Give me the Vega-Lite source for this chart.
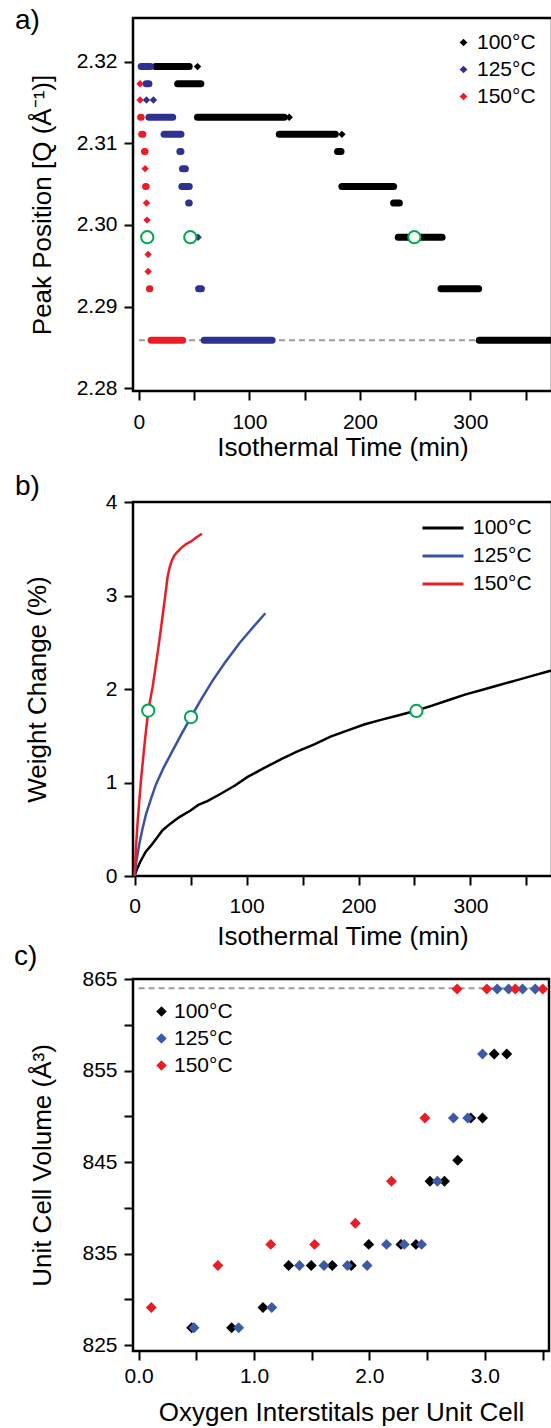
{
  "$schema": "https://vega.github.io/schema/vega-lite/v6.json",
  "background": "white",
  "padding": {"left": 12, "top": 5, "right": 0, "bottom": 0},
  "config": {
    "font": "Liberation Sans",
    "view": {"stroke": "black", "strokeWidth": 2.5},
    "axis": {"domain": false, "grid": false, "tickColor": "black", "tickWidth": 2, "tickSize": 9, "labelFontSize": 21, "labelColor": "black", "labelFont": "Liberation Sans", "titleFont": "Liberation Sans", "titleFontSize": 26, "titleFontWeight": "normal", "titleColor": "black", "labelPadding": 7, "labelFlush": false, "labelOverlap": false},
    "legend": {"labelFont": "Liberation Sans", "labelFontSize": 21, "labelColor": "black", "padding": 0},
    "title": {"font": "Liberation Sans", "fontSize": 28, "fontWeight": "normal", "color": "black", "anchor": "start", "frame": "group", "baseline": "alphabetic"}
  },
  "datasets": {
    "refA": [{"t": 0, "t2": 372, "q": 2.2859}],
    "bandsA": [
      {"T": "100°C", "q": 2.3194, "t": 15, "t2": 45.5},
      {"T": "100°C", "q": 2.3173, "t": 35, "t2": 56},
      {"T": "100°C", "q": 2.3132, "t": 53, "t2": 131.5},
      {"T": "100°C", "q": 2.3111, "t": 127, "t2": 177.7},
      {"T": "100°C", "q": 2.3090, "t": 179.8, "t2": 182.9},
      {"T": "100°C", "q": 2.3047, "t": 183.7, "t2": 230.5},
      {"T": "100°C", "q": 2.3027, "t": 230.5, "t2": 235.7},
      {"T": "100°C", "q": 2.2985, "t": 234.7, "t2": 274.4},
      {"T": "100°C", "q": 2.2922, "t": 273.4, "t2": 307.5},
      {"T": "100°C", "q": 2.2859, "t": 308, "t2": 380},
      {"T": "125°C", "q": 2.3194, "t": 2, "t2": 10.5},
      {"T": "125°C", "q": 2.3173, "t": 6.5, "t2": 9},
      {"T": "125°C", "q": 2.3132, "t": 9, "t2": 30.5},
      {"T": "125°C", "q": 2.3111, "t": 22.7, "t2": 38},
      {"T": "125°C", "q": 2.3090, "t": 37, "t2": 38},
      {"T": "125°C", "q": 2.3069, "t": 39.4, "t2": 42},
      {"T": "125°C", "q": 2.3047, "t": 38.8, "t2": 45.5},
      {"T": "125°C", "q": 2.3027, "t": 45, "t2": 45.5},
      {"T": "125°C", "q": 2.2922, "t": 54, "t2": 56.5},
      {"T": "125°C", "q": 2.2859, "t": 59, "t2": 120.5},
      {"T": "150°C", "q": 2.3132, "t": 1.5, "t2": 2},
      {"T": "150°C", "q": 2.3111, "t": 2.5, "t2": 3.5},
      {"T": "150°C", "q": 2.3090, "t": 5, "t2": 5.5},
      {"T": "150°C", "q": 2.3047, "t": 6, "t2": 6.5},
      {"T": "150°C", "q": 2.2922, "t": 9.5, "t2": 9.8},
      {"T": "150°C", "q": 2.2859, "t": 11, "t2": 39.5}
    ],
    "dotsA": [
      {"T": "100°C", "q": 2.3194, "t": 53},
      {"T": "100°C", "q": 2.3132, "t": 136},
      {"T": "100°C", "q": 2.3111, "t": 183.7},
      {"T": "125°C", "q": 2.3153, "t": 6.8},
      {"T": "125°C", "q": 2.3153, "t": 13.1},
      {"T": "125°C", "q": 2.2985, "t": 53.5},
      {"T": "150°C", "q": 2.3173, "t": 1},
      {"T": "150°C", "q": 2.3153, "t": 1},
      {"T": "150°C", "q": 2.3069, "t": 5.6},
      {"T": "150°C", "q": 2.3027, "t": 6.8},
      {"T": "150°C", "q": 2.3006, "t": 7.3},
      {"T": "150°C", "q": 2.2964, "t": 8.3},
      {"T": "150°C", "q": 2.2943, "t": 8.3}
    ],
    "circA": [{"t": 7.5, "q": 2.2985}, {"t": 46.5, "q": 2.2985}, {"t": 249.3, "q": 2.2985}],
    "curvesB": [
      {"T": "100°C", "t": 0, "w": 0}, {"T": "100°C", "t": 2, "w": 0.07}, {"T": "100°C", "t": 5, "w": 0.15},
      {"T": "100°C", "t": 10, "w": 0.26}, {"T": "100°C", "t": 15, "w": 0.33}, {"T": "100°C", "t": 20, "w": 0.41},
      {"T": "100°C", "t": 25, "w": 0.49}, {"T": "100°C", "t": 32, "w": 0.56}, {"T": "100°C", "t": 40, "w": 0.63},
      {"T": "100°C", "t": 50, "w": 0.7}, {"T": "100°C", "t": 57, "w": 0.76}, {"T": "100°C", "t": 65, "w": 0.8},
      {"T": "100°C", "t": 77, "w": 0.88}, {"T": "100°C", "t": 90, "w": 0.97}, {"T": "100°C", "t": 101, "w": 1.06},
      {"T": "100°C", "t": 115, "w": 1.15}, {"T": "100°C", "t": 131, "w": 1.25}, {"T": "100°C", "t": 145, "w": 1.33},
      {"T": "100°C", "t": 161, "w": 1.41}, {"T": "100°C", "t": 175, "w": 1.49}, {"T": "100°C", "t": 191, "w": 1.56},
      {"T": "100°C", "t": 205, "w": 1.62}, {"T": "100°C", "t": 220, "w": 1.67}, {"T": "100°C", "t": 236, "w": 1.72},
      {"T": "100°C", "t": 252, "w": 1.77}, {"T": "100°C", "t": 265, "w": 1.82}, {"T": "100°C", "t": 280, "w": 1.88},
      {"T": "100°C", "t": 295, "w": 1.94}, {"T": "100°C", "t": 310, "w": 1.99}, {"T": "100°C", "t": 325, "w": 2.04},
      {"T": "100°C", "t": 340, "w": 2.09}, {"T": "100°C", "t": 355, "w": 2.14}, {"T": "100°C", "t": 373, "w": 2.2},
      {"T": "125°C", "t": 0, "w": 0}, {"T": "125°C", "t": 1.5, "w": 0.15}, {"T": "125°C", "t": 4.2, "w": 0.34},
      {"T": "125°C", "t": 7, "w": 0.5}, {"T": "125°C", "t": 10.2, "w": 0.66}, {"T": "125°C", "t": 14.5, "w": 0.82},
      {"T": "125°C", "t": 19.1, "w": 0.98}, {"T": "125°C", "t": 26, "w": 1.16}, {"T": "125°C", "t": 34, "w": 1.34},
      {"T": "125°C", "t": 42, "w": 1.52}, {"T": "125°C", "t": 50.4, "w": 1.7}, {"T": "125°C", "t": 60, "w": 1.9},
      {"T": "125°C", "t": 69.7, "w": 2.09}, {"T": "125°C", "t": 80, "w": 2.27}, {"T": "125°C", "t": 93.6, "w": 2.49},
      {"T": "125°C", "t": 105, "w": 2.65}, {"T": "125°C", "t": 116.8, "w": 2.81},
      {"T": "150°C", "t": 0, "w": 0}, {"T": "150°C", "t": 0.5, "w": 0.12}, {"T": "150°C", "t": 1.2, "w": 0.3},
      {"T": "150°C", "t": 3, "w": 0.62}, {"T": "150°C", "t": 5.7, "w": 1.02}, {"T": "150°C", "t": 9, "w": 1.42},
      {"T": "150°C", "t": 12.2, "w": 1.77}, {"T": "150°C", "t": 16.1, "w": 2.02}, {"T": "150°C", "t": 20.9, "w": 2.41},
      {"T": "150°C", "t": 23.6, "w": 2.65}, {"T": "150°C", "t": 27.4, "w": 3.0}, {"T": "150°C", "t": 29.5, "w": 3.2},
      {"T": "150°C", "t": 31.5, "w": 3.31}, {"T": "150°C", "t": 33.5, "w": 3.38}, {"T": "150°C", "t": 35.7, "w": 3.43},
      {"T": "150°C", "t": 38.5, "w": 3.47}, {"T": "150°C", "t": 41.7, "w": 3.51}, {"T": "150°C", "t": 46, "w": 3.55},
      {"T": "150°C", "t": 50.7, "w": 3.58}, {"T": "150°C", "t": 55, "w": 3.62}, {"T": "150°C", "t": 60.2, "w": 3.66}
    ],
    "circB": [{"t": 12.2, "w": 1.77}, {"t": 50.4, "w": 1.7}, {"t": 251.7, "w": 1.765}],
    "refC": [{"n": 0, "n2": 3.556, "v": 864}],
    "pointsC": [
      {"T": "100°C", "n": 0.46, "v": 826.9}, {"T": "100°C", "n": 0.806, "v": 826.9}, {"T": "100°C", "n": 1.078, "v": 829.1},
      {"T": "100°C", "n": 1.3, "v": 833.7}, {"T": "100°C", "n": 1.496, "v": 833.7}, {"T": "100°C", "n": 1.678, "v": 833.7},
      {"T": "100°C", "n": 1.843, "v": 833.7}, {"T": "100°C", "n": 1.994, "v": 836.0}, {"T": "100°C", "n": 2.273, "v": 836.0},
      {"T": "100°C", "n": 2.403, "v": 836.0}, {"T": "100°C", "n": 2.525, "v": 842.9}, {"T": "100°C", "n": 2.65, "v": 842.9},
      {"T": "100°C", "n": 2.765, "v": 845.2}, {"T": "100°C", "n": 2.878, "v": 849.8}, {"T": "100°C", "n": 2.98, "v": 849.8},
      {"T": "100°C", "n": 3.081, "v": 856.8}, {"T": "100°C", "n": 3.19, "v": 856.8},
      {"T": "125°C", "n": 0.48, "v": 826.9}, {"T": "125°C", "n": 0.867, "v": 826.9}, {"T": "125°C", "n": 1.154, "v": 829.1},
      {"T": "125°C", "n": 1.394, "v": 833.7}, {"T": "125°C", "n": 1.606, "v": 833.7}, {"T": "125°C", "n": 1.809, "v": 833.7},
      {"T": "125°C", "n": 1.98, "v": 833.7}, {"T": "125°C", "n": 2.148, "v": 836.0}, {"T": "125°C", "n": 2.302, "v": 836.0},
      {"T": "125°C", "n": 2.452, "v": 836.0}, {"T": "125°C", "n": 2.589, "v": 842.9}, {"T": "125°C", "n": 2.728, "v": 849.8},
      {"T": "125°C", "n": 2.852, "v": 849.8}, {"T": "125°C", "n": 2.98, "v": 856.8}, {"T": "125°C", "n": 3.107, "v": 863.9},
      {"T": "125°C", "n": 3.206, "v": 863.9}, {"T": "125°C", "n": 3.327, "v": 863.9}, {"T": "125°C", "n": 3.437, "v": 863.9},
      {"T": "150°C", "n": 0.11, "v": 829.1}, {"T": "150°C", "n": 0.687, "v": 833.7}, {"T": "150°C", "n": 1.145, "v": 836.0},
      {"T": "150°C", "n": 1.525, "v": 836.0}, {"T": "150°C", "n": 1.878, "v": 838.3}, {"T": "150°C", "n": 2.191, "v": 842.9},
      {"T": "150°C", "n": 2.481, "v": 849.8}, {"T": "150°C", "n": 2.76, "v": 863.9}, {"T": "150°C", "n": 3.017, "v": 863.9},
      {"T": "150°C", "n": 3.264, "v": 863.9}, {"T": "150°C", "n": 3.502, "v": 863.9}
    ]
  },
  "resolve": {"scale": {"color": "independent", "stroke": "independent"}, "legend": {"color": "independent", "stroke": "independent"}},
  "spacing": -10,
  "vconcat": [
    {
      "bounds": "flush",
      "spacing": 111,
      "resolve": {"scale": {"color": "independent", "stroke": "independent"}, "legend": {"color": "independent", "stroke": "independent"}},
      "vconcat": [
        {
          "width": 419,
          "height": 373,
          "title": {"text": "a)", "dx": -118, "offset": -17},
          "encoding": {
            "x": {"field": "t", "type": "quantitative", "scale": {"domain": [-5.4, 373.9], "nice": false, "zero": false},
              "axis": {"values": [0, 50, 100, 150, 200, 250, 300, 350], "labelExpr": "datum.value % 100 === 0 ? datum.label : ''", "title": "Isothermal Time (min)", "labelPadding": 11, "titlePadding": 2}},
            "y": {"field": "q", "type": "quantitative", "scale": {"domain": [2.27967, 2.32535], "nice": false, "zero": false},
              "axis": {"values": [2.28, 2.29, 2.30, 2.31, 2.32], "format": ".2f", "title": "Peak Position [Q (Å⁻¹)]", "titleX": -78}}
          },
          "layer": [
            {"data": {"name": "refA"}, "mark": {"type": "rule", "color": "#9a9a9a", "strokeDash": [6, 4], "strokeWidth": 2}, "encoding": {"x2": {"field": "t2"}}},
            {"data": {"name": "bandsA"}, "mark": {"type": "rule", "strokeWidth": 7, "strokeCap": "round", "clip": true},
              "encoding": {"x2": {"field": "t2"}, "stroke": {"field": "T", "type": "nominal", "scale": {"domain": ["150°C", "125°C", "100°C"], "range": ["#ed1c24", "#2e3192", "#000000"]}, "legend": null}}},
            {"data": {"name": "dotsA"}, "mark": {"type": "point", "shape": "diamond", "filled": true, "size": 55, "opacity": 1},
              "encoding": {"color": {"field": "T", "type": "nominal", "scale": {"domain": ["100°C", "125°C", "150°C"], "range": ["#000000", "#2e3192", "#ed1c24"]},
                "legend": {"title": null, "orient": "none", "legendX": 320, "legendY": 14, "symbolType": "diamond", "symbolSize": 60, "labelOffset": 3, "rowPadding": 5}}}},
            {"data": {"name": "circA"}, "mark": {"type": "point", "shape": "circle", "size": 150, "filled": true, "fill": "white", "stroke": "#00a651", "strokeWidth": 2, "opacity": 1}}
          ]
        },
        {
          "width": 419,
          "height": 374,
          "title": {"text": "b)", "dx": -118, "offset": -10},
          "encoding": {
            "x": {"field": "t", "type": "quantitative", "scale": {"domain": [-1.4, 372.8], "nice": false, "zero": false},
              "axis": {"values": [0, 50, 100, 150, 200, 250, 300, 350], "labelExpr": "datum.value % 100 === 0 ? datum.label : ''", "title": "Isothermal Time (min)", "labelPadding": 10, "titlePadding": 7}},
            "y": {"field": "w", "type": "quantitative", "scale": {"domain": [0, 4], "nice": false},
              "axis": {"values": [0, 1, 2, 3, 4], "title": "Weight Change (%)", "titleX": -83}}
          },
          "layer": [
            {"data": {"name": "curvesB"}, "mark": {"type": "line", "strokeWidth": 2.5, "clip": true},
              "encoding": {"color": {"field": "T", "type": "nominal", "scale": {"domain": ["100°C", "125°C", "150°C"], "range": ["#000000", "#3953a4", "#ed1c24"]},
                "legend": {"title": null, "orient": "none", "legendX": 298, "legendY": 14, "symbolType": "M-2,0L2,0", "symbolSize": 420, "symbolStrokeWidth": 3, "labelOffset": 18, "rowPadding": 6}}}},
            {"data": {"name": "circB"}, "mark": {"type": "point", "shape": "circle", "size": 150, "filled": true, "fill": "white", "stroke": "#00a651", "strokeWidth": 2, "opacity": 1}}
          ]
        }
      ]
    },
    {
      "width": 416,
      "height": 372,
      "title": {"text": "c)", "dx": -119, "offset": -3},
      "encoding": {
        "x": {"field": "n", "type": "quantitative", "scale": {"domain": [-0.0485, 3.556], "nice": false, "zero": false},
          "axis": {"values": [0, 0.5, 1, 1.5, 2, 2.5, 3, 3.5], "labelExpr": "datum.value % 1 === 0 ? format(datum.value, '.1f') : ''", "title": "Oxygen Interstitals per Unit Cell", "labelPadding": 5, "titlePadding": 13}},
        "y": {"field": "v", "type": "quantitative", "scale": {"domain": [824.35, 865], "nice": false, "zero": false},
          "axis": {"values": [825, 830, 835, 840, 845, 850, 855, 860, 865], "labelExpr": "datum.value % 10 === 5 ? datum.label : ''", "title": "Unit Cell Volume (Å³)", "titleX": -78}}
      },
      "layer": [
        {"data": {"name": "refC"}, "mark": {"type": "rule", "color": "#9a9a9a", "strokeDash": [6, 4], "strokeWidth": 2}, "encoding": {"x2": {"field": "n2"}}},
        {"data": {"name": "pointsC"}, "mark": {"type": "point", "shape": "diamond", "filled": true, "size": 120, "opacity": 1},
          "encoding": {"color": {"field": "T", "type": "nominal", "scale": {"domain": ["100°C", "125°C", "150°C"], "range": ["#000000", "#3c5aa8", "#ed1c24"]},
            "legend": {"title": null, "orient": "none", "legendX": 18, "legendY": 22, "symbolType": "diamond", "symbolSize": 110, "labelOffset": 2, "rowPadding": 5}}}}
      ]
    }
  ]
}
